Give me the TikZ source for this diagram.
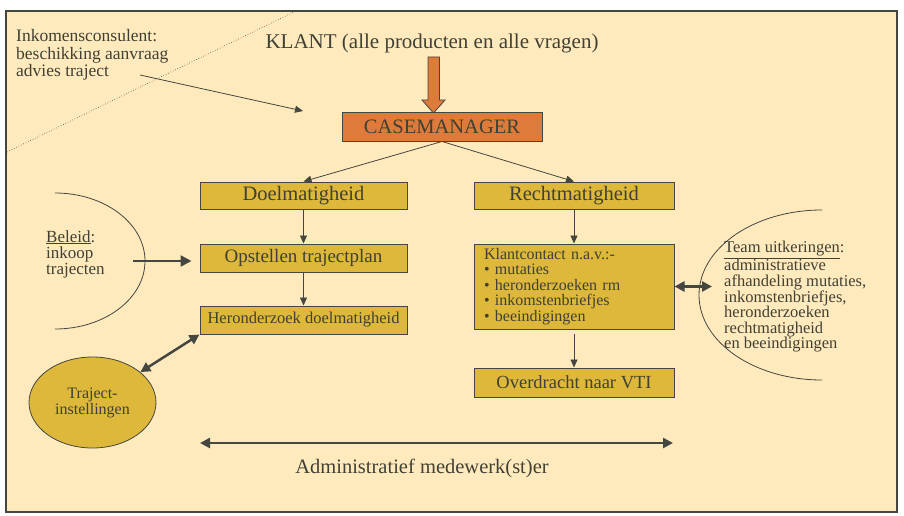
\documentclass[tikz,border=0pt]{standalone}
\usepackage{fontspec}
\setmainfont{Liberation Serif}
\usetikzlibrary{arrows.meta,shapes.geometric}
\definecolor{bgc}{RGB}{255,234,190}
\definecolor{gold}{RGB}{221,184,59}
\definecolor{orng}{RGB}{222,122,58}
\definecolor{ink}{RGB}{64,64,52}
\definecolor{linec}{RGB}{68,70,64}
\newcommand\myfs[2]{\fontsize{#1}{#2}\selectfont}
\begin{document}
\begin{tikzpicture}[x=1pt,y=-1pt,
  box/.style={draw=linec, line width=1pt, fill=gold, minimum width=207pt, minimum height=27pt, inner sep=0pt, text=ink},
  conn/.style={draw=linec, line width=0.8pt, -{Triangle[length=8pt,width=7pt]}},
  fatarrow/.style={draw=linec, line width=2.5pt, -{Triangle[length=11pt,width=11pt]}},
  dblarrow/.style={draw=linec, line width=2.5pt, {Triangle[length=10pt,width=10pt]}-{Triangle[length=10pt,width=10pt]}},
  lbl/.style={text=ink, inner sep=0pt, align=left}]
\useasboundingbox (0,0) rectangle (904,516);
\fill[white] (0,0) rectangle (904,516);
\draw[draw=linec, line width=1.2pt, fill=bgc] (6,11) rectangle (897,512);

% dotted diagonal
\coordinate (d1) at (7,152);
\coordinate (d2) at (296,11);
\draw[linec, dotted, line width=0.6pt] (d1) -- (d2);

% top texts
\node[lbl, anchor=west, font=\myfs{17.5}{17.5}] (inko) at (16,55) {Inkomensconsulent:\\beschikking aanvraag\\advies traject};
\node[text=ink, inner sep=0pt, font=\myfs{21}{24}] (klant) at (432,43) {KLANT (alle producten en alle vragen)};

% block arrow
\draw[draw=linec, line width=0.8pt, fill=orng] (428,57) -- (439.5,57) -- (439.5,100) -- (445,100) -- (433.5,113) -- (422,100) -- (428,100) -- cycle;

\node[box, fill=orng, minimum width=200pt, minimum height=28pt, font=\myfs{20.5}{24}] (case) at (442,127) {CASEMANAGER};

\coordinate (ia) at (140,75);
\coordinate (ib) at (303,111);
\draw[conn] (ia) -- (ib);

% left column
\node[box, font=\myfs{20.5}{24}] (doel) at (303.5,195.5) {Doelmatigheid};
\node[box, minimum height=28pt, font=\myfs{19}{22}] (opst) at (303.5,258) {Opstellen trajectplan};
\node[box, minimum height=28pt, font=\myfs{16.5}{20}] (hero) at (303.5,320) {Heronderzoek doelmatigheid};

% right column
\node[box, minimum width=200pt, font=\myfs{20.5}{24}] (recht) at (574,195.5) {Rechtmatigheid};
\node[box, minimum width=200pt, minimum height=85pt, text width=180pt, align=left, font=\myfs{16}{15.5}] (kc) at (574,286.5) {Klantcontact n.a.v.:-\\• mutaties\\• heronderzoeken rm\\• inkomstenbriefjes\\• beeindigingen};
\node[box, minimum width=200pt, minimum height=29pt, font=\myfs{18.5}{22}] (over) at (574,382.5) {Overdracht naar VTI};

\draw[conn] (case.south) -- (doel.north);
\draw[conn] (case.south) -- (recht.north);
\draw[conn] (doel.south) -- (opst.north);
\draw[conn] (opst.south) -- (hero.north);
\draw[conn] (recht.south) -- (kc.north);
\draw[conn, shorten <=4pt] (kc.south) -- (over.north);

% Beleid
\draw[linec, line width=0.8pt] (55,193) arc[start angle=270, end angle=450, x radius=90, y radius=68];
\node[lbl, anchor=west, font=\myfs{17}{16}] (bel) at (46,254) {\underline{Beleid}:\\inkoop\\trajecten};
\coordinate (bstart) at (133,261);
\draw[fatarrow, shorten >=8pt] (bstart) -- (bstart -| opst.west);

% Traject-instellingen
\node[ellipse, draw=linec, line width=0.8pt, fill=gold, minimum width=127pt, minimum height=91pt, inner sep=0pt, text=ink, align=center, font=\myfs{16}{16}] (traj) at (92.5,402.5) {Traject-\\instellingen};
\draw[dblarrow] (traj) -- (hero.south west);

% Team uitkeringen
\draw[linec, line width=0.8pt] (822,210) arc[start angle=270, end angle=90, x radius=123, y radius=85];
\node[lbl, anchor=west, font=\myfs{16.5}{15.6}] (team) at (724,297) {\underline{Team uitkeringen}:\\administratieve\\afhandeling mutaties,\\inkomstenbriefjes,\\heronderzoeken\\rechtmatigheid\\en beeindigingen};
\coordinate (tright) at (712,286.5);
\draw[dblarrow] (kc.east) -- (tright);

% Administratief
\coordinate (al) at (200,443);
\coordinate (ar) at (673,443);
\draw[dblarrow] (al) -- (ar);
\node[text=ink, inner sep=0pt, font=\myfs{20.5}{24}] (admin) at (422,468) {Administratief medewerk(st)er};
\end{tikzpicture}
\end{document}
